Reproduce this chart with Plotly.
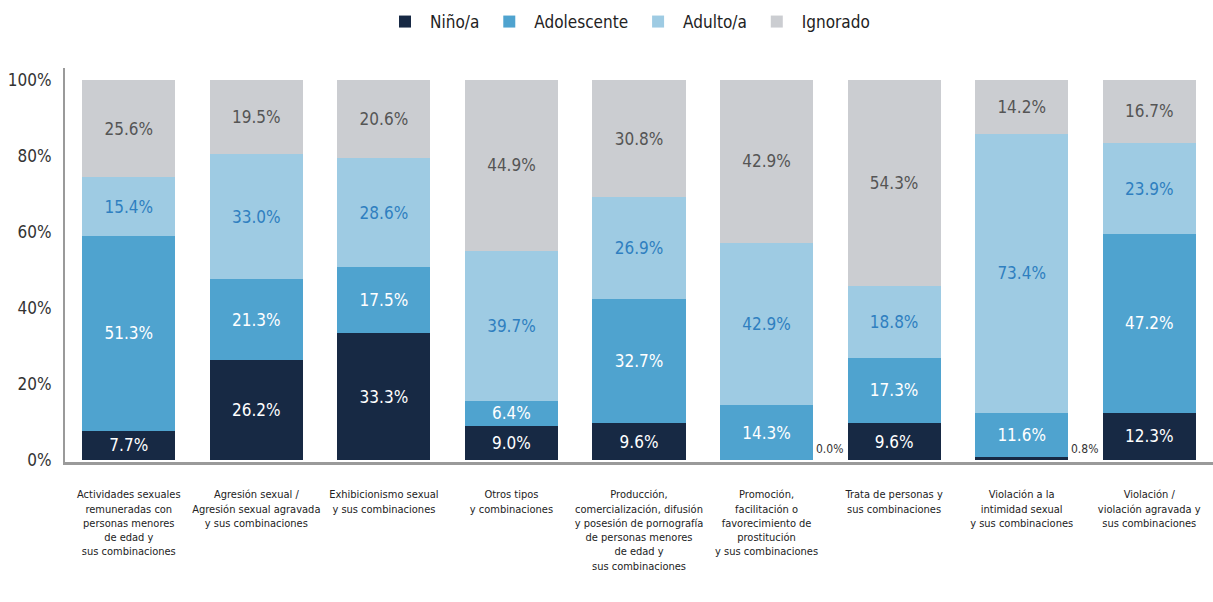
import plotly.graph_objects as go

# categories (x axis, multi-line labels)
categorias = [
    "Actividades sexuales<br>remuneradas con<br>personas menores<br>de edad y<br>sus combinaciones",
    "Agresión sexual /<br>Agresión sexual agravada<br>y sus combinaciones",
    "Exhibicionismo sexual<br>y sus combinaciones",
    "Otros tipos<br>y combinaciones",
    "Producción,<br>comercialización, difusión<br>y posesión de pornografía<br>de personas menores<br>de edad y<br>sus combinaciones",
    "Promoción,<br>facilitación o<br>favorecimiento de<br>prostitución<br>y sus combinaciones",
    "Trata de personas y<br>sus combinaciones",
    "Violación a la<br>intimidad sexual<br>y sus combinaciones",
    "Violación /<br>violación agravada y<br>sus combinaciones",
]

nino = [7.7, 26.2, 33.3, 9.0, 9.6, 0.0, 9.6, 0.8, 12.3]
adolescente = [51.3, 21.3, 17.5, 6.4, 32.7, 14.3, 17.3, 11.6, 47.2]
adulto = [15.4, 33.0, 28.6, 39.7, 26.9, 42.9, 18.8, 73.4, 23.9]
ignorado = [25.6, 19.5, 20.6, 44.9, 30.8, 42.9, 54.3, 14.2, 16.7]

y_ticks = [0, 20, 40, 60, 80, 100]

FONT = "DejaVu Sans Condensed, Roboto, sans-serif"

series = [
    ("Niño/a", nino, "#172944", "white"),
    ("Adolescente", adolescente, "#4fa3cf", "white"),
    ("Adulto/a", adulto, "#9ecbe3", "#2f7fc0"),
    ("Ignorado", ignorado, "#cbcdd1", "#555555"),
]

fig = go.Figure()
x = list(range(len(categorias)))
for name, vals, color, tcolor in series:
    # tiny segments get their label outside, next to the bar
    labels = [f"{v:.1f}%" if v >= 3 else "" for v in vals]
    fig.add_trace(go.Bar(
        name=name, x=x, y=vals, marker_color=color, marker_line_width=0,
        text=labels, textposition="inside", insidetextanchor="middle",
        textangle=0, textfont=dict(family=FONT, size=17, color=tcolor),
        constraintext="none", hoverinfo="skip",
    ))

for i, v in enumerate(nino):
    if v < 3:
        fig.add_annotation(x=i, y=0, text=f"{v:.1f}%", showarrow=False,
                           xanchor="left", yanchor="bottom", xshift=47, yshift=2,
                           font=dict(family=FONT, size=12, color="#333333"))

fig.update_layout(
    barmode="stack", bargap=0.27,
    width=1213, height=602,
    margin=dict(l=65, r=0, t=68, b=140, autoexpand=False),
    plot_bgcolor="white", paper_bgcolor="white",
    font=dict(family=FONT, color="#333333"),
    uniformtext=dict(minsize=16, mode="show"),
    legend=dict(orientation="h", x=0.49, xanchor="center", xref="paper",
                y=1 - 22 / 602, yanchor="middle", yref="container",
                font=dict(size=17, color="#222222"), itemwidth=40, traceorder="normal"),
    showlegend=True,
)
fig.update_xaxes(tickvals=x, ticktext=categorias, range=[-0.5, len(categorias) - 0.5],
                 showline=True, linecolor="#9a9a9a", linewidth=3, ticks="",
                 tickfont=dict(size=11, color="#222222"), ticklabelstandoff=20,
                 tickangle=0, automargin=False)
fig.update_yaxes(range=[-0.6, 103.2], tickvals=y_ticks, ticktext=[f"{t}%" for t in y_ticks],
                 showline=True, linecolor="#9a9a9a", linewidth=2, showgrid=False,
                 zeroline=False, tickfont=dict(size=17, color="#333333"),
                 ticklabelstandoff=8, automargin=False)

# drop the browser's default body margin so the figure sits at the page corner
fig.write_html("out.html", config={"displayModeBar": False},
               post_script="document.body.style.margin='0px';")
